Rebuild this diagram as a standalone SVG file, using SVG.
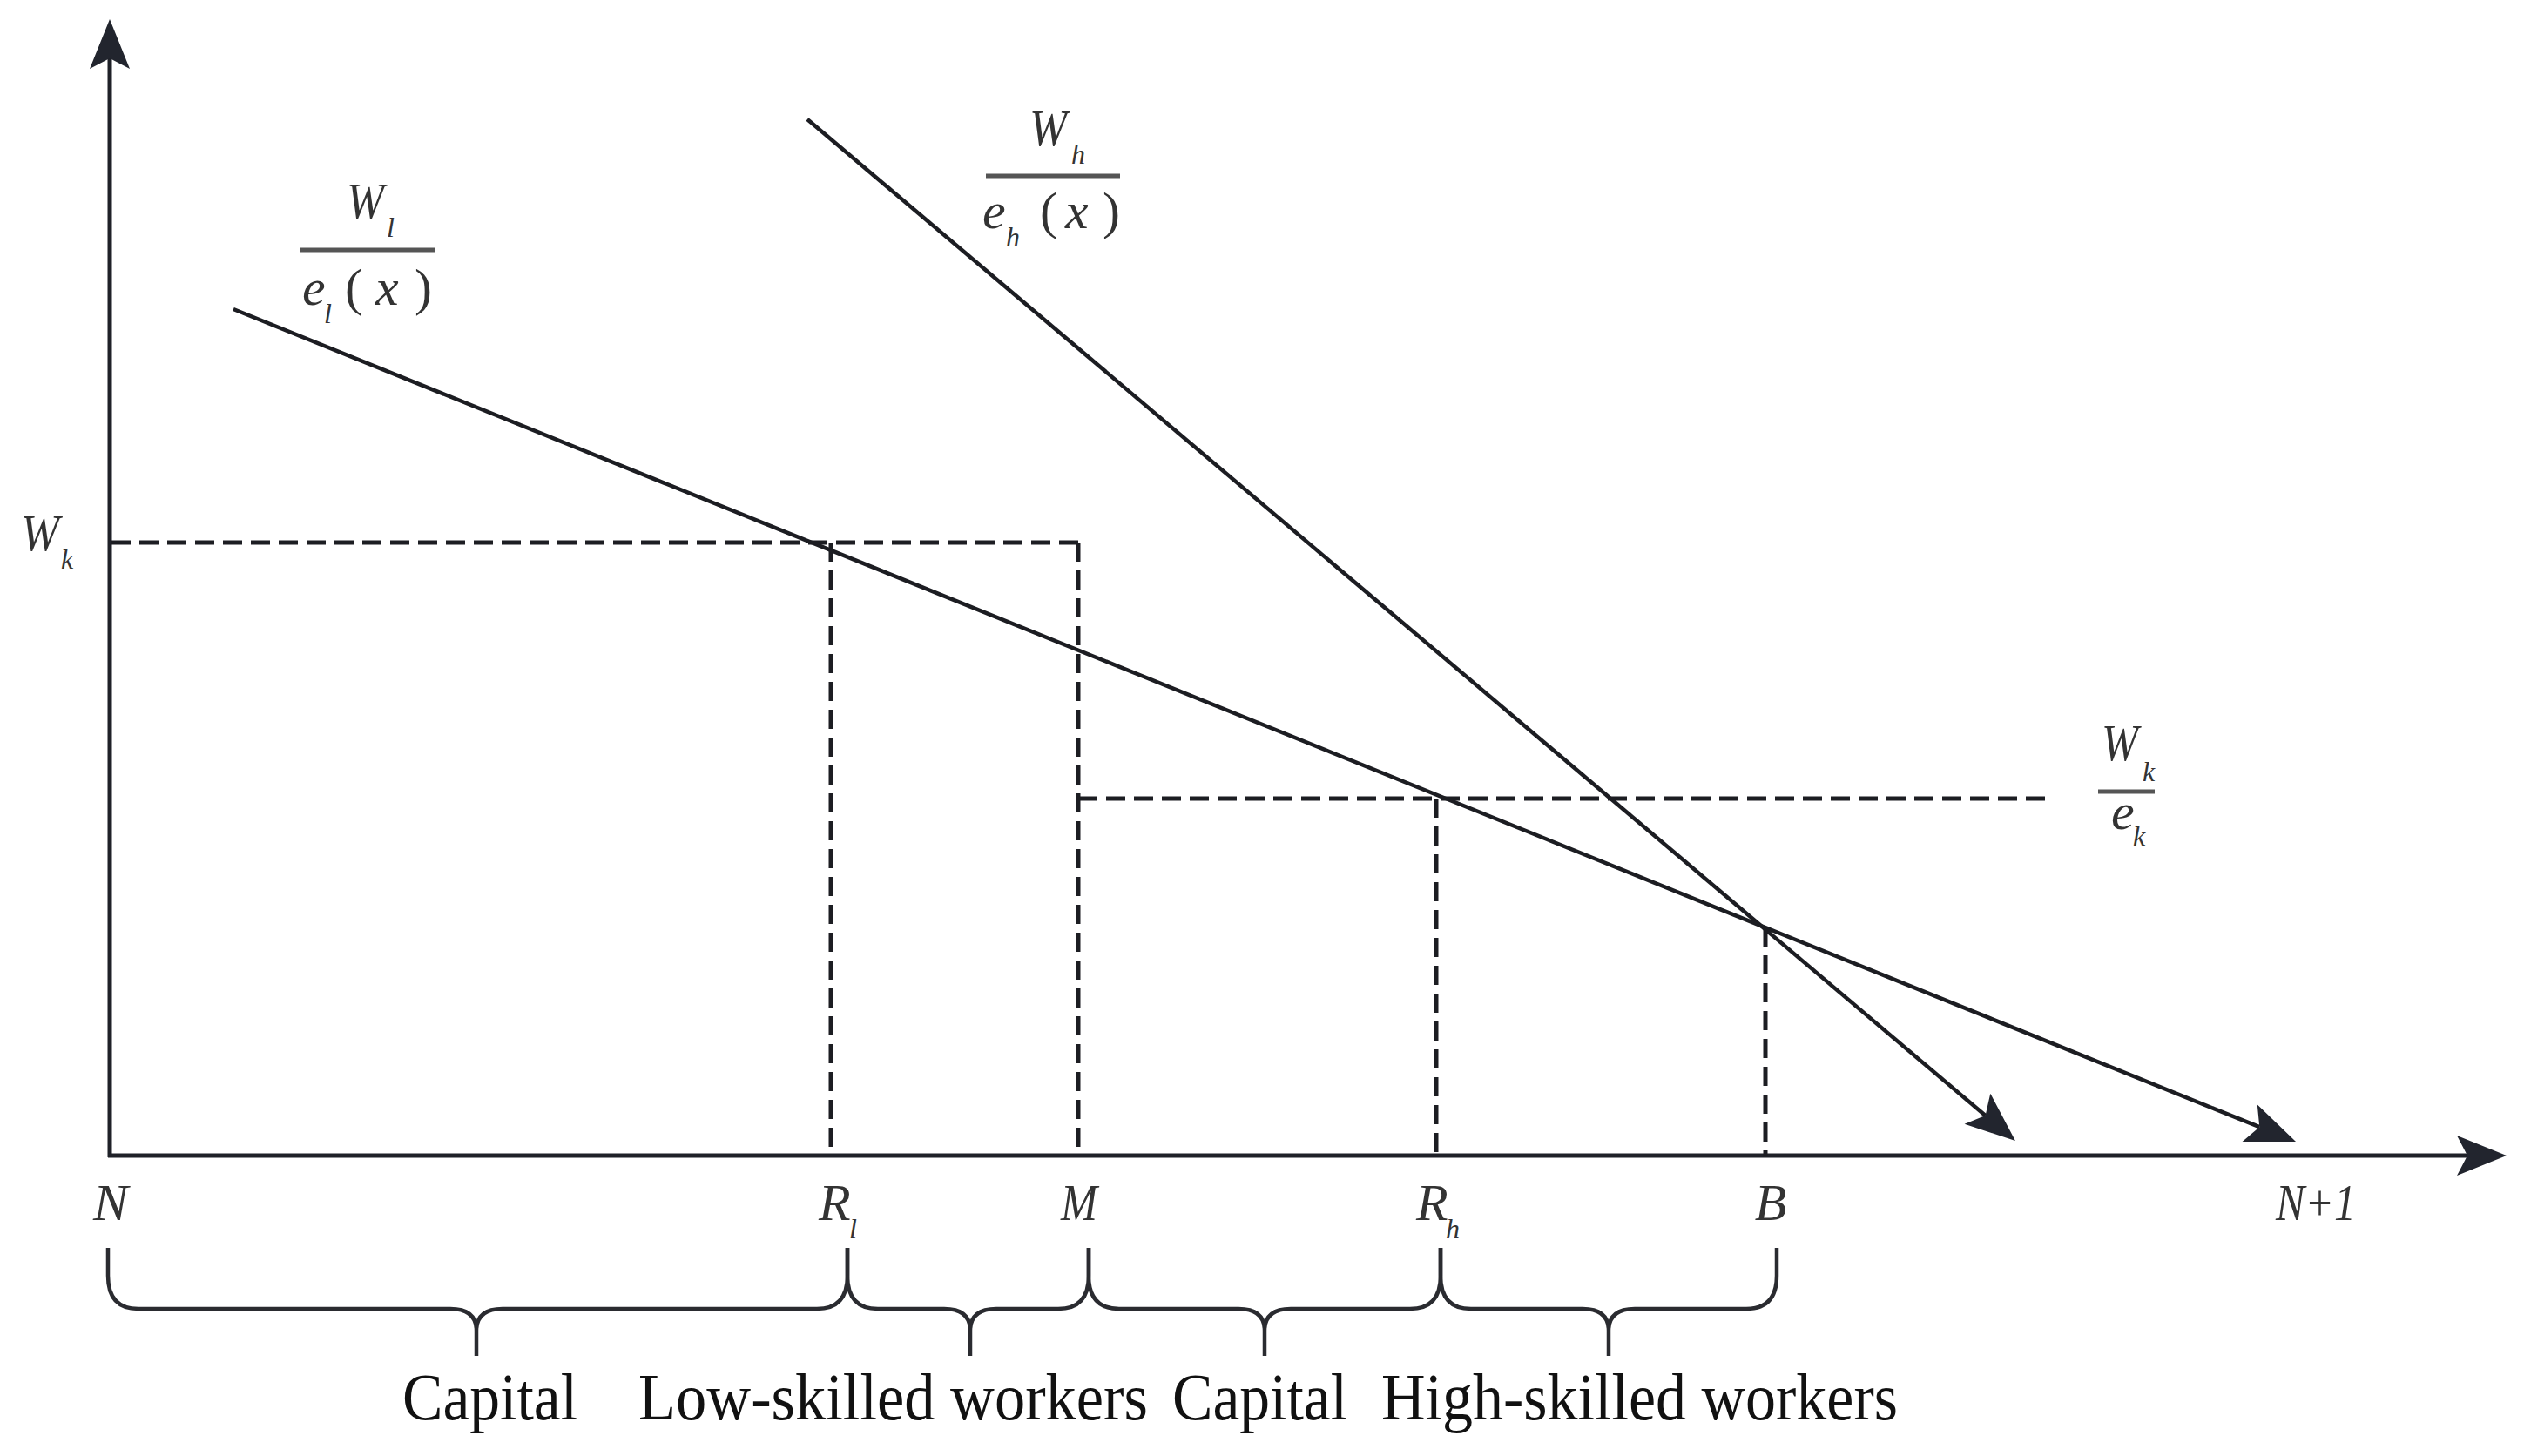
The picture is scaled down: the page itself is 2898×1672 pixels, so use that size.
<svg xmlns="http://www.w3.org/2000/svg" width="2898" height="1672" viewBox="0 0 2898 1672">
<defs>
<style>
.axis{stroke:#1f2128;stroke-width:5;fill:none}
.curve{stroke:#1c1d22;stroke-width:4.5;fill:none}
.dash{stroke:#1c1d22;stroke-width:5;stroke-dasharray:22 10;fill:none}
.brace{stroke:#2a2b30;stroke-width:4.5;fill:none;stroke-linejoin:round}
.bar{stroke:#555;stroke-width:5}
.math{font-family:"Liberation Serif","Times New Roman",serif;font-style:italic;fill:#333;font-size:60px}
.sub{font-size:32px}
.up{font-family:"Liberation Serif","Times New Roman",serif;font-style:normal;fill:#333;font-size:60px}
.lbl{font-family:"Liberation Serif","Times New Roman",serif;fill:#111;font-size:76px}
</style>
<marker id="ah" markerUnits="userSpaceOnUse" viewBox="-14 -25 62 50" refX="0" refY="0" markerWidth="62" markerHeight="50" orient="auto">
<path d="M45,0 L-12,-23 L0,0 L-12,23 Z" fill="#22252e"/>
</marker>
</defs>
<rect width="2898" height="1672" fill="#fff"/>

<g id="connectors">
<line id="y-axis" class="axis" x1="126" y1="1329" x2="126" y2="67" marker-end="url(#ah)"/>
<line id="x-axis" class="axis" x1="124" y1="1327" x2="2833" y2="1327" marker-end="url(#ah)"/>
<line id="curve-h" class="curve" x1="927" y1="137" x2="2279.6" y2="1281" marker-end="url(#ah)"/>
<line id="curve-l" class="curve" x1="268" y1="355" x2="2594.3" y2="1294.2" marker-end="url(#ah)"/>
<path class="dash" d="M128,623 H1238"/>
<path class="dash" d="M954,623 V1327"/>
<path class="dash" d="M1238,623 V1327"/>
<path class="dash" d="M1238,917 H2358"/>
<path class="dash" d="M1649,917 V1327"/>
<path class="dash" d="M2027,1065 V1327"/>
</g>

<g id="label-Wl-el">
<line class="bar" x1="345" y1="287" x2="499" y2="287"/>
<text class="math" x="398" y="251" textLength="43" lengthAdjust="spacingAndGlyphs">W</text>
<text class="math sub" x="444" y="272">l</text>
<text class="math" x="347" y="350">e</text>
<text class="math sub" x="372" y="371">l</text>
<text class="up" x="396" y="350">(</text>
<text class="math" x="431" y="350">x</text>
<text class="up" x="476" y="350">)</text>
</g>

<g id="label-Wh-eh">
<line class="bar" x1="1132" y1="202" x2="1286" y2="202"/>
<text class="math" x="1182" y="167" textLength="43" lengthAdjust="spacingAndGlyphs">W</text>
<text class="math sub" x="1230" y="188">h</text>
<text class="math" x="1128" y="262">e</text>
<text class="math sub" x="1155" y="283">h</text>
<text class="up" x="1194" y="262">(</text>
<text class="math" x="1223" y="262">x</text>
<text class="up" x="1266" y="262">)</text>
</g>

<g id="label-Wk-left">
<text class="math" x="24" y="632" textLength="44" lengthAdjust="spacingAndGlyphs">W</text>
<text class="math sub" x="70" y="653">k</text>
</g>

<g id="label-Wk-ek">
<line class="bar" x1="2409" y1="909" x2="2474" y2="909"/>
<text class="math" x="2413" y="873" textLength="42" lengthAdjust="spacingAndGlyphs">W</text>
<text class="math sub" x="2460" y="897">k</text>
<text class="math" x="2424" y="952" font-size="54">e</text>
<text class="math sub" x="2449" y="971">k</text>
</g>

<g id="axis-labels">
<text class="math" x="127" y="1401" text-anchor="middle">N</text>
<text class="math" x="940" y="1401">R</text>
<text class="math sub" x="975" y="1422">l</text>
<text class="math" x="1239" y="1401" text-anchor="middle" textLength="42" lengthAdjust="spacingAndGlyphs">M</text>
<text class="math" x="1626" y="1401">R</text>
<text class="math sub" x="1660" y="1422">h</text>
<text class="math" x="2033" y="1401" text-anchor="middle">B</text>
<text class="math" x="2613" y="1401" textLength="92" lengthAdjust="spacingAndGlyphs">N+1</text>
</g>

<g id="brace-capital-1">
<path class="brace" d="M124,1433 L124,1465 Q124,1503 159,1503 L517,1503 Q547,1503 547,1528 L547,1557 M547,1528 Q547,1503 577,1503 L938,1503 Q973,1503 973,1465 L973,1433"/>
<text class="lbl" x="462" y="1630" textLength="201" lengthAdjust="spacingAndGlyphs">Capital</text>
</g>
<g id="brace-low-skilled">
<path class="brace" d="M973,1433 L973,1465 Q973,1503 1008,1503 L1084,1503 Q1114,1503 1114,1528 L1114,1557 M1114,1528 Q1114,1503 1144,1503 L1215,1503 Q1250,1503 1250,1465 L1250,1433"/>
<text class="lbl" x="733" y="1630" textLength="585" lengthAdjust="spacingAndGlyphs">Low-skilled workers</text>
</g>
<g id="brace-capital-2">
<path class="brace" d="M1250,1433 L1250,1465 Q1250,1503 1285,1503 L1422,1503 Q1452,1503 1452,1528 L1452,1557 M1452,1528 Q1452,1503 1482,1503 L1619,1503 Q1654,1503 1654,1465 L1654,1433"/>
<text class="lbl" x="1346" y="1630" textLength="201" lengthAdjust="spacingAndGlyphs">Capital</text>
</g>
<g id="brace-high-skilled">
<path class="brace" d="M1654,1433 L1654,1465 Q1654,1503 1689,1503 L1817,1503 Q1847,1503 1847,1528 L1847,1557 M1847,1528 Q1847,1503 1877,1503 L2005,1503 Q2040,1503 2040,1465 L2040,1433"/>
<text class="lbl" x="1586" y="1630" textLength="593" lengthAdjust="spacingAndGlyphs">High-skilled workers</text>
</g>
</svg>
